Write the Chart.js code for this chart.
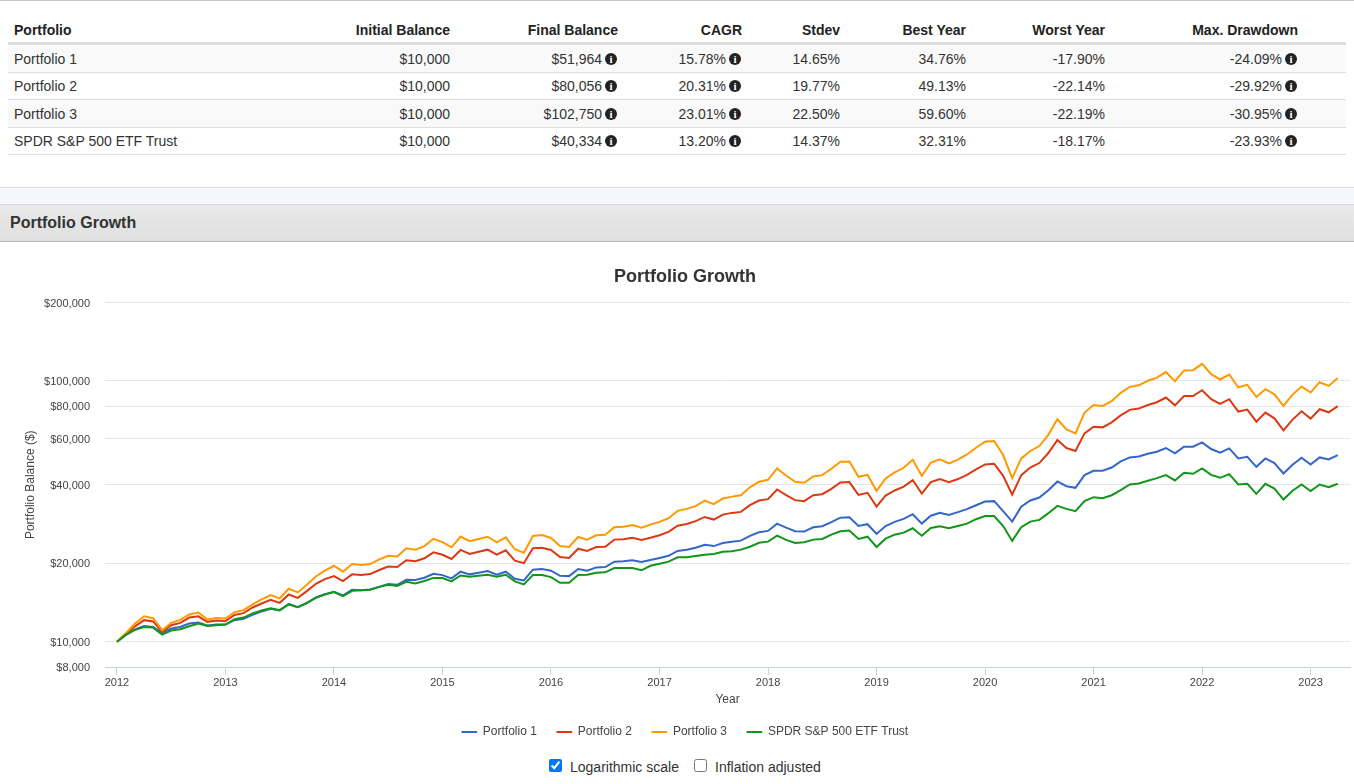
<!DOCTYPE html>
<html>
<head>
<meta charset="utf-8">
<title>Portfolio Growth</title>
<script src="https://cdn.jsdelivr.net/npm/chart.js@4"></script>
<style>
  html, body { margin: 0; padding: 0; background: #fff; }
  body { width: 1354px; height: 784px; overflow: hidden; position: relative; font-family: "Liberation Sans", Arial, sans-serif; color: #333; font-size: 14px; }
  .topline { position: absolute; left: 0; top: 0; width: 1354px; height: 1px; background: #c4c4c4; }
  table { position: absolute; left: 8px; top: 16px; width: 1338px; border-collapse: collapse; table-layout: fixed; }
  th, td { padding: 0 5px 0 6px; text-align: right; font-size: 14px; white-space: nowrap; }
  th { height: 24px; padding-top: 2px; border-bottom: 3px solid #ddd; color: #222; }
  td { height: 25.5px; padding-top: 1px; border-bottom: 1px solid #ddd; }
  th:first-child, td:first-child { text-align: left; }
  tr.odd td { background: #f9f9f9; }
  .info { display: inline-block; width: 12px; height: 12px; margin: 0 1px 0 3px; border-radius: 50%; background: #222; color: #fff; font: bold 11px/12px "Liberation Serif", serif; text-align: center; vertical-align: 1px; }
  .strip { position: absolute; left: 0; top: 187px; width: 1354px; height: 17px; background: #f5f7fa; border-top: 1px solid #ddd; border-bottom: 1px solid #d8d8d8; box-sizing: border-box; height: 18px; }
  .heading { position: absolute; left: 0; top: 205px; width: 1354px; height: 37px; box-sizing: border-box; padding: 9px 10px; background: linear-gradient(#e9e9e9, #e0e0e0); border-bottom: 1px solid #bbb; font-size: 16px; font-weight: bold; color: #333; line-height: 18px; }
  #chart-box { position: absolute; left: 0; top: 242px; width: 1370px; height: 506px; }
  .opt { position: absolute; top: 758px; font-size: 14px; line-height: 17px; color: #333; white-space: nowrap; }
  .opt input { position: absolute; left: 0; top: 1px; margin: 0; width: 13px; height: 13px; }
  .opt span { position: absolute; left: 21px; top: 1px; }
</style>
</head>
<body>
<div class="topline"></div>
<table id="summary"></table>
<div class="strip"></div>
<div class="heading">Portfolio Growth</div>
<div id="chart-box"><canvas id="growthChart"></canvas></div>
<label class="opt" style="left:549px"><input type="checkbox" checked><span>Logarithmic scale</span></label>
<label class="opt" style="left:694px"><input type="checkbox"><span>Inflation adjusted</span></label>
<script>
// summary table
const tableHead = ['Portfolio', 'Initial Balance', 'Final Balance', 'CAGR', 'Stdev', 'Best Year', 'Worst Year', 'Max. Drawdown'];
const colWidths = [247, 200, 168, 124, 98, 126, 139, 193, 43];
const names = ['Portfolio 1', 'Portfolio 2', 'Portfolio 3', 'SPDR S&P 500 ETF Trust'];
const initialBal = ['$10,000', '$10,000', '$10,000', '$10,000'];
const finalBal = ['$51,964', '$80,056', '$102,750', '$40,334'];
const cagr = ['15.78%', '20.31%', '23.01%', '13.20%'];
const stdev = ['14.65%', '19.77%', '22.50%', '14.37%'];
const bestYear = ['34.76%', '49.13%', '59.60%', '32.31%'];
const worstYear = ['-17.90%', '-22.14%', '-22.19%', '-18.17%'];
const maxDrawdown = ['-24.09%', '-29.92%', '-30.95%', '-23.93%'];

// monthly balances, one row per year, Jan 2012 onwards
const portfolio1 = [
  10000,10620,11140,11490,11390,10810,11240,11390,11750,11850,11540,11640,
  11640,12100,12240,12670,13070,13370,13180,13930,13570,14060,14780,15230,
  15540,15050,15820,15740,15820,16230,16640,16530,17290,17240,17590,18230,
  18010,17500,18560,18130,18390,18670,18060,18560,17440,17190,18890,19000,
  18720,17890,17850,19000,18720,19280,19330,20280,20350,20530,20220,20580,
  20950,21360,22290,22550,22940,23560,23270,23920,24200,24420,25460,26300,
  26610,28380,27390,26540,26450,27480,27720,28740,29920,30030,27790,28230,
  25910,27790,28820,29590,30840,28380,30440,31200,30640,31400,32240,33380,
  34490,34610,31680,28890,32970,34800,35720,38090,41170,39500,38930,43540,
  45270,45270,46590,49150,50910,51340,52610,53560,55330,52750,55950,55950,
  58160,54850,53080,55140,50470,51210,46850,50470,48450,44190,47710,50780,
  47840,50910,50030,51964
];
const portfolio2 = [
  10000,10680,11460,12100,11960,10910,11570,11810,12380,12520,11920,12070,
  11990,12670,12870,13530,14020,14480,14100,15180,14730,15640,16680,17390,
  17850,17090,18130,18010,18180,18840,19430,19330,20530,20350,20890,22030,
  21560,20760,22490,21700,22150,22550,21560,22430,20460,20010,22820,22940,
  22490,21120,20950,22740,22290,23080,23140,24640,24720,25070,24570,25070,
  25600,26380,27860,28300,29000,30100,29410,30720,31200,31480,33420,34800,
  35230,38350,36470,34920,34610,36470,36810,38590,40810,40950,36570,37250,
  32970,36340,38020,39360,41690,37010,40950,42060,40950,42060,43660,45790,
  47840,48150,43260,36680,43540,46590,48450,52940,59410,55330,53900,62970,
  66800,66400,69430,73800,77500,78380,80930,82880,86380,80630,87520,87520,
  92190,85120,81690,85120,76340,77700,69860,75650,71920,64690,71110,76540,
  71740,77900,75860,80056
];
const portfolio3 = [
  10000,10810,11750,12520,12310,11070,11810,12130,12720,12950,12170,12340,
  12280,12980,13220,13900,14530,15090,14660,15960,15460,16530,17800,18720,
  19560,18560,19860,19680,19860,20710,21360,21250,22820,22550,23270,24810,
  24100,23020,25310,24290,24790,25280,24070,25150,22630,21950,25460,25670,
  25000,23270,23080,25220,24640,25600,25740,27480,27620,28050,27390,28120,
  28820,29770,31760,32330,33100,34800,33690,35410,36020,36470,39090,41070,
  41800,46190,43380,41070,40700,43010,43540,46070,49020,49150,42900,43660,
  37920,42280,44590,46470,49900,43260,48590,50030,48280,49900,52270,55470,
  58520,58890,51990,42420,50470,53900,56300,62170,71300,65260,62970,75650,
  80930,80220,83630,90070,94950,96270,100180,103000,108200,99820,109750,110040,
  116300,106150,101340,105870,94630,96620,86900,93000,88930,80220,88690,95190,
  90310,98930,95770,102750
];
const spy = [
  10000,10650,11100,11390,11330,10650,11040,11170,11460,11750,11490,11570,
  11640,12200,12380,12840,13180,13450,13220,13930,13570,14100,14730,15180,
  15500,14950,15680,15740,15870,16230,16530,16380,16980,16740,17090,17570,
  17540,17040,17950,17740,17890,18060,17740,18060,17040,16590,18010,18010,
  17690,16830,16830,18010,18060,18390,18460,19170,19170,19170,18790,19550,
  19910,20280,21070,21070,21300,21560,21700,22150,22230,22550,23140,23960,
  24200,25510,24570,23920,24070,24640,24790,25740,26540,26680,24790,25280,
  23080,24850,25740,26210,27240,25510,27310,27720,27240,27790,28380,29510,
  30360,30360,27790,24360,27480,28890,29330,31120,33200,32330,31680,34610,
  35840,35530,36470,38150,40080,40440,41430,42420,43540,41540,44470,44070,
  46190,43660,42530,43950,40080,40330,36910,40330,38690,35100,37920,40080,
  37820,40080,39160,40334
];
const seriesValues = [portfolio1, portfolio2, portfolio3, spy];
const seriesColors = ['#3366cc', '#dc3912', '#ff9900', '#109618'];

const yearTicks = [2012, 2013, 2014, 2015, 2016, 2017, 2018, 2019, 2020, 2021, 2022, 2023];
const balanceTicks = [8000, 10000, 20000, 40000, 60000, 80000, 100000, 200000];

// build the table
function infoIcon() { return '<span class="info">i</span>'; }
let html = '<colgroup>' + colWidths.map(w => '<col style="width:' + w + 'px">').join('') + '</colgroup>';
html += '<tr>' + tableHead.map(h => '<th>' + h + '</th>').join('') + '<th></th></tr>';
names.forEach(function (name, i) {
  html += '<tr class="' + (i % 2 === 0 ? 'odd' : '') + '">' +
    '<td>' + name.replace('&', '&amp;') + '</td>' +
    '<td>' + initialBal[i] + '</td>' +
    '<td>' + finalBal[i] + infoIcon() + '</td>' +
    '<td>' + cagr[i] + infoIcon() + '</td>' +
    '<td>' + stdev[i] + '</td>' +
    '<td>' + bestYear[i] + '</td>' +
    '<td>' + worstYear[i] + '</td>' +
    '<td>' + maxDrawdown[i] + infoIcon() + '</td><td></td></tr>';
});
document.getElementById('summary').innerHTML = html;

// chart
const axisColor = '#c6d3e6';
const gridColor = '#e6e6e6';
const tickColor = '#444';

const datasets = names.map(function (name, s) {
  return {
    label: name,
    data: seriesValues[s].map((v, i) => ({ x: 2012 + i / 12, y: v })),
    borderColor: seriesColors[s],
    backgroundColor: seriesColors[s],
    borderWidth: 2,
    pointRadius: 0,
    tension: 0,
    order: names.length - s // later series are painted on top
  };
});

new Chart(document.getElementById('growthChart'), {
  type: 'line',
  data: { datasets: datasets },
  options: {
    responsive: true,
    maintainAspectRatio: false,
    animation: false,
    plugins: {
      title: {
        display: true,
        text: 'Portfolio Growth',
        color: '#333',
        font: { family: 'Liberation Sans', size: 18, weight: 'bold' },
        padding: { top: 24, bottom: 14.9 }
      },
      legend: {
        position: 'bottom',
        labels: {
          boxWidth: 15,
          boxHeight: 1,
          color: '#444',
          padding: 20,
          font: { family: 'Liberation Sans', size: 12 },
          sort: (a, b) => a.datasetIndex - b.datasetIndex,
          generateLabels: function (chart) {
            const items = Chart.defaults.plugins.legend.labels.generateLabels(chart);
            items.forEach(item => { item.lineWidth = 1; });
            return items;
          }
        }
      },
      tooltip: { enabled: false }
    },
    scales: {
      x: {
        type: 'linear',
        min: 2011.89,
        max: 2023.363,
        afterBuildTicks: function (axis) { axis.ticks = yearTicks.map(v => ({ value: v })); },
        afterFit: function (axis) { axis.height = 39; },
        ticks: { color: tickColor, font: { family: 'Liberation Sans', size: 11 }, maxRotation: 0, autoSkip: false, padding: 1, callback: v => String(v) },
        grid: { drawOnChartArea: false, drawTicks: true, tickLength: 8, color: axisColor },
        border: { color: axisColor },
        title: { display: true, text: 'Year', color: tickColor, font: { family: 'Liberation Sans', size: 12 }, padding: { top: 4, bottom: -1 } }
      },
      y: {
        type: 'logarithmic',
        min: 8000,
        max: 200000,
        afterBuildTicks: function (axis) { axis.ticks = balanceTicks.map(v => ({ value: v })); },
        afterFit: function (axis) { axis.width = 105; },
        ticks: { color: tickColor, font: { family: 'Liberation Sans', size: 11 }, padding: 15, labelOffset: 1, autoSkip: false, callback: v => '$' + Number(v).toLocaleString('en-US') },
        grid: { drawTicks: false, color: ctx => (ctx.tick && ctx.tick.value === 8000 ? axisColor : gridColor) },
        border: { display: false },
        title: { display: true, text: 'Portfolio Balance ($)', color: tickColor, font: { family: 'Liberation Sans', size: 12 }, padding: { top: 23, bottom: 4 } }
      },
      // empty axis that keeps the plot short of the canvas edge
      rightGap: {
        type: 'linear',
        position: 'right',
        afterFit: function (axis) { axis.width = 20; },
        ticks: { display: false },
        grid: { display: false },
        border: { display: false }
      }
    }
  }
});
</script>
</body>
</html>
